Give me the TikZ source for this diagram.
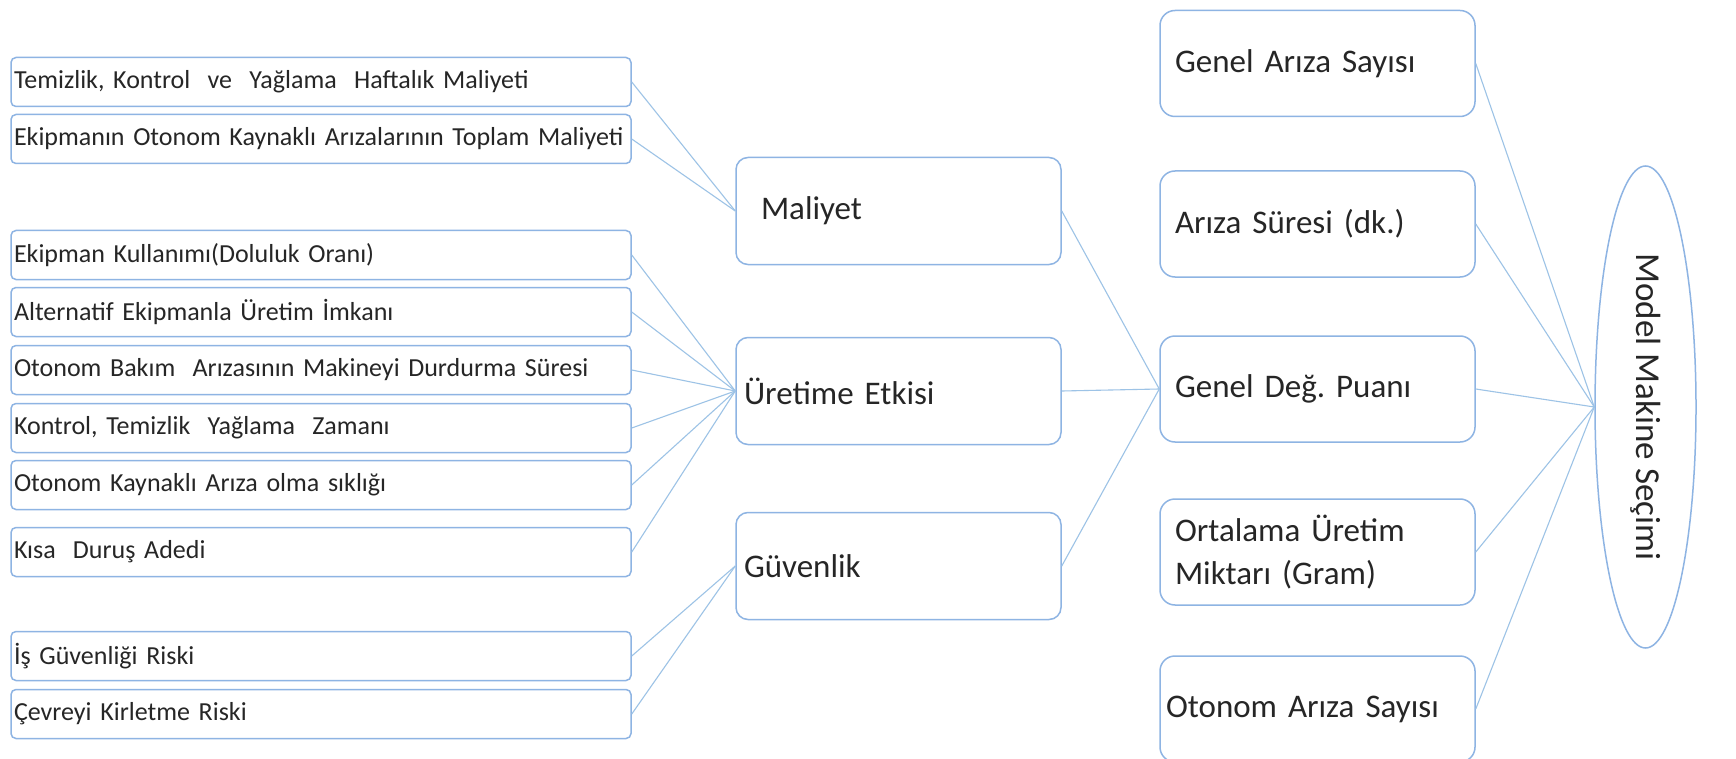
\documentclass[tikz,border=0pt]{standalone}
\usepackage{fontspec}
\setmainfont{Carlito}
\usepackage{graphicx}
\usetikzlibrary{shapes.geometric}
\definecolor{boxblue}{HTML}{8EB4E3}
\definecolor{linkblue}{HTML}{9DC3E6}
\definecolor{txtgray}{HTML}{262626}
\tikzset{
  leaf/.style = {draw=boxblue, line width=1.5pt, rounded corners=5pt, fill=white,
                 minimum width=620pt, minimum height=49pt, text width=614pt,
                 inner xsep=3pt, align=left, text=txtgray,
                 font=\fontsize{26}{31}\selectfont},
  crit/.style = {draw=boxblue, line width=1.5pt, rounded corners=12pt, fill=white,
                 minimum width=325pt, minimum height=107pt, text width=309pt,
                 inner xsep=8pt, align=left, text=txtgray,
                 font=\fontsize{33}{43}\selectfont},
  ind/.style  = {crit, minimum width=315pt, minimum height=106pt,
                 text width=285pt, inner xsep=15pt, rounded corners=15pt},
  goal/.style = {ellipse, draw=boxblue, line width=1.5pt, fill=white,
                 minimum width=101pt, minimum height=482pt, inner sep=0pt,
                 text=txtgray, font=\fontsize{35}{40}\selectfont},
  lnk/.style  = {draw=linkblue, line width=1.1pt},
}

\begin{document}
\begin{tikzpicture}[x=1pt,y=-1pt]
  \fill[white] (0,0) rectangle (1736,759);
  \useasboundingbox (0,0) rectangle (1736,759);

  % sub criteria
  \foreach \i/\yy/\txt in {
      1/82/{Temizlik, Kontrol~ ve~ Yağlama~ Haftalık Maliyeti},
      2/139/{Ekipmanın Otonom Kaynaklı Arızalarının Toplam Maliyeti},
      3/255/{Ekipman Kullanımı(Doluluk Oranı)},
      4/312/{Alternatif Ekipmanla Üretim İmkanı},
      5/370/{Otonom Bakım~ Arızasının Makineyi Durdurma Süresi},
      6/428/{Kontrol, Temizlik~ Yağlama~ Zamanı},
      7/485/{Otonom Kaynaklı Arıza olma sıklığı},
      8/552/{Kısa~ Duruş Adedi},
      9/656/{İş Güvenliği Riski},
      10/714/{Çevreyi Kirletme Riski}}
    \node[leaf] (s\i) at (321,\yy) {\txt};

  % main criteria
  \node[crit] (mal) at (898.5,211) {\hspace*{17pt}Maliyet};
  \node[crit] (ure) at (898.5,391) {Üretime Etkisi};
  \node[crit] (guv) at (898.5,566) {Güvenlik};

  % indicators
  \node[ind] (gas) at (1317.5,63.5) {Genel Arıza Sayısı};
  \node[ind] (ars) at (1317.5,224) {Arıza Süresi (dk.)};
  \node[ind] (gdp) at (1317.5,389) {Genel Değ.\ Puanı};
  \node[ind] (ort) at (1317.5,552) {Ortalama Üretim\\Miktarı (Gram)};
  \node[ind] (oas) at (1317.5,709) {\hspace*{-9pt}Otonom Arıza Sayısı};

  \node[goal] (mms) at (1645.5,407) {\rotatebox{-90}{Model Makine Seçimi}};

  % links
  \foreach \s in {1,2}
    \draw[lnk] (s\s.east) -- (mal.west);
  \foreach \s in {3,...,8}
    \draw[lnk] (s\s.east) -- (ure.west);
  \foreach \s in {9,10}
    \draw[lnk] (s\s.east) -- (guv.west);
  \foreach \m in {mal,ure,guv}
    \draw[lnk] (\m.east) -- (gdp.west);
  \foreach \r in {gas,ars,gdp,ort,oas}
    \draw[lnk] (\r.east) -- (mms.west);
\end{tikzpicture}
\end{document}
